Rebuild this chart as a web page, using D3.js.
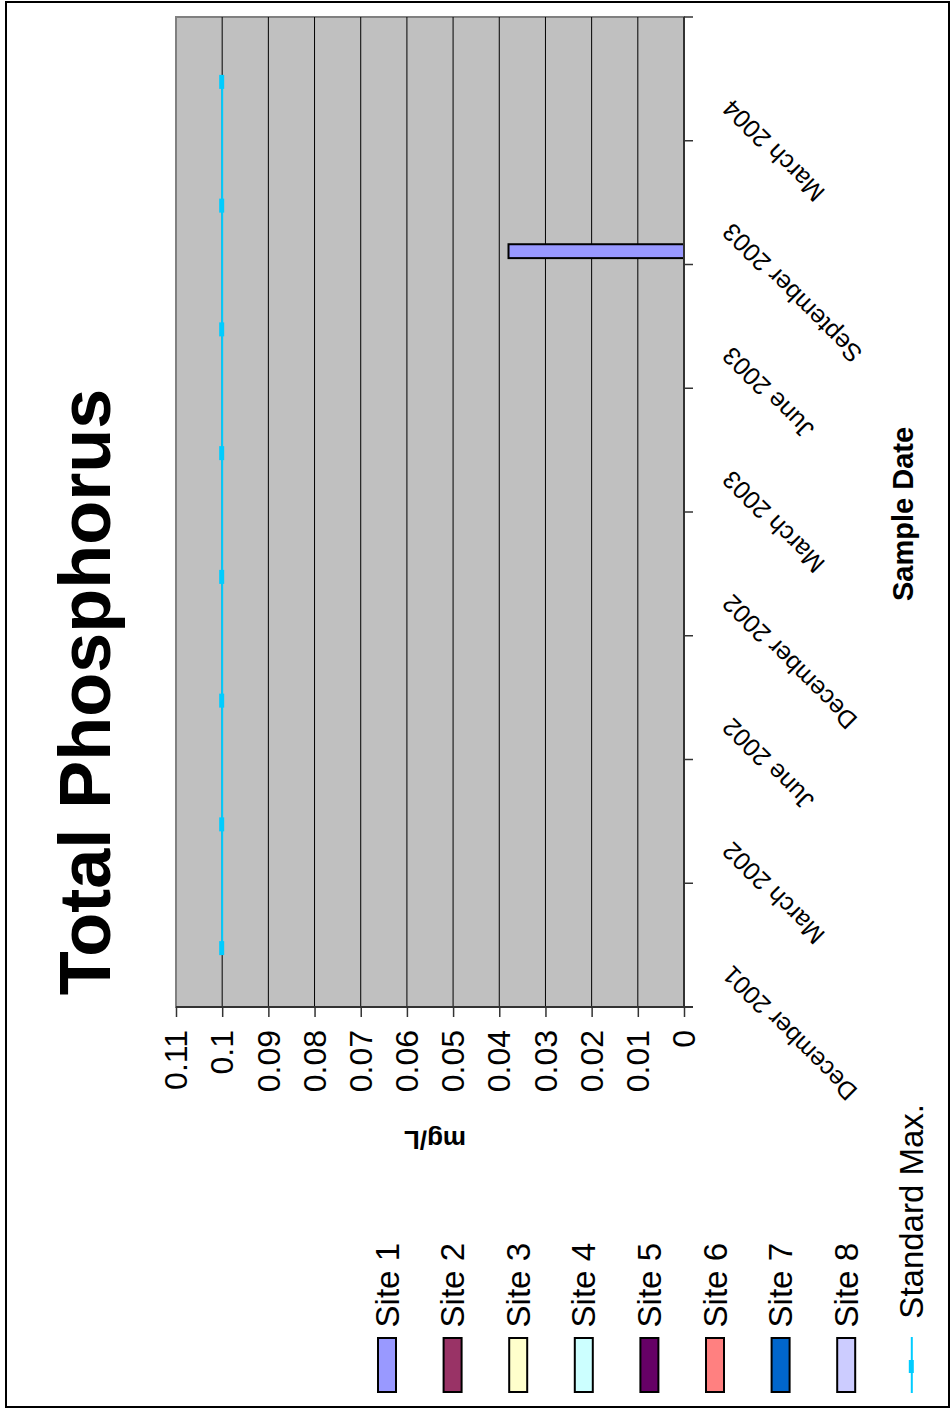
<!DOCTYPE html>
<html>
<head>
<meta charset="utf-8">
<script src="https://cdn.jsdelivr.net/npm/d3@7"></script>
<style>
  html, body { margin: 0; padding: 0; background: #fff; }
  svg { display: block; }
  text { font-family: Arial, "Liberation Sans", sans-serif; fill: #000; }
</style>
</head>
<body>
<script>
// ---- data ----
const categories = ["December 2001", "March 2002", "June 2002", "December 2002",
                    "March 2003", "June 2003", "September 2003", "March 2004"];
const seriesNames = ["Site 1", "Site 2", "Site 3", "Site 4", "Site 5", "Site 6", "Site 7", "Site 8"];
const seriesColors = ["#9999FF", "#993366", "#FFFFCC", "#CCFFFF", "#660066", "#FF8080", "#0066CC", "#CCCCFF"];
const site1 = [null, null, null, null, null, null, 0.038, null];
const site2 = [null, null, null, null, null, null, null, null];
const site3 = [null, null, null, null, null, null, null, null];
const site4 = [null, null, null, null, null, null, null, null];
const site5 = [null, null, null, null, null, null, null, null];
const site6 = [null, null, null, null, null, null, null, null];
const site7 = [null, null, null, null, null, null, null, null];
const site8 = [null, null, null, null, null, null, null, null];
const standardMax = [0.1, 0.1, 0.1, 0.1, 0.1, 0.1, 0.1, 0.1];
const valueTicks = [0, 0.01, 0.02, 0.03, 0.04, 0.05, 0.06, 0.07, 0.08, 0.09, 0.1, 0.11];
const valueTickLabels = ["0", "0.01", "0.02", "0.03", "0.04", "0.05", "0.06", "0.07", "0.08", "0.09", "0.1", "0.11"];
const seriesData = [site1, site2, site3, site4, site5, site6, site7, site8];

// ---- layout ----
const W = 952, H = 1410;
const plot = { left: 176, right: 684, top: 17, bottom: 1007 };

const svg = d3.select("body").append("svg").attr("width", W).attr("height", H);

// outer border
svg.append("rect").attr("x", 6).attr("y", 2).attr("width", 943).attr("height", 1405)
  .attr("fill", "none").attr("stroke", "#000").attr("stroke-width", 2);

// scales (chart is rotated: values run right-to-left, categories bottom-to-top)
const x = d3.scaleLinear().domain([0, 0.11]).range([plot.right, plot.left]);
const y = d3.scaleBand().domain(categories).range([plot.bottom, plot.top]).paddingInner(0).paddingOuter(0);
const ys = d3.scaleBand().domain(seriesNames).range([y.bandwidth(), 0]).paddingInner(0).paddingOuter(0.46);

// plot background
svg.append("rect").attr("x", plot.left).attr("y", plot.top)
  .attr("width", plot.right - plot.left).attr("height", plot.bottom - plot.top)
  .attr("fill", "#C0C0C0").attr("stroke", "#808080").attr("stroke-width", 2);

// gridlines
svg.append("g").selectAll("line").data(valueTicks.filter(v => v > 0 && v < 0.11)).join("line")
  .attr("x1", d => x(d)).attr("x2", d => x(d))
  .attr("y1", plot.top).attr("y2", plot.bottom)
  .attr("stroke", "#000").attr("stroke-width", 1);

// bars
const barG = svg.append("g");
seriesData.forEach((arr, si) => {
  barG.selectAll(null).data(arr.map((v, i) => ({ v, c: categories[i] })).filter(d => d.v != null)).join("rect")
    .attr("x", d => x(d.v))
    .attr("y", d => y(d.c) + ys(seriesNames[si]))
    .attr("width", d => x(0) - x(d.v))
    .attr("height", ys.bandwidth())
    .attr("fill", seriesColors[si]).attr("stroke", "#000").attr("stroke-width", 2);
});

// value axis (bottom of the rotated plot)
const xAxis = d3.axisBottom(x).tickValues(valueTicks).tickFormat(() => "").tickSize(10);
const gx = svg.append("g").attr("transform", `translate(0,${plot.bottom})`).call(xAxis);
gx.select(".domain").attr("stroke", "#333").attr("stroke-width", 2).attr("d", `M${plot.left},0H${plot.right + 9}`);
gx.selectAll(".tick line").attr("stroke", "#333").attr("stroke-width", 1.5);
svg.append("g").selectAll("text").data(valueTicks).join("text")
  .attr("transform", d => `translate(${x(d)},1030) rotate(-90)`)
  .attr("text-anchor", "end").attr("dy", "0.35em")
  .attr("font-size", 32)
  .text((d, i) => valueTickLabels[i]);

// category axis (right edge)
const bounds = categories.map(c => y(c)).concat([plot.bottom]);
svg.append("line").attr("x1", plot.right).attr("x2", plot.right)
  .attr("y1", plot.top).attr("y2", plot.bottom)
  .attr("stroke", "#333").attr("stroke-width", 2);
svg.append("g").selectAll("line").data(bounds).join("line")
  .attr("x1", plot.right).attr("x2", plot.right + 9)
  .attr("y1", d => d).attr("y2", d => d)
  .attr("stroke", "#333").attr("stroke-width", 1.5);
svg.append("g").selectAll("text").data(categories).join("text")
  .attr("transform", d => `translate(733,${y(d) + y.bandwidth() / 2 + 19}) rotate(225)`)
  .attr("text-anchor", "end")
  .attr("font-size", 25)
  .text(d => d);

// standard max line
const stdColor = "#00CCFF";
const lineGen = d3.line().x(d => x(d.v)).y(d => y(d.c) + y.bandwidth() / 2);
const stdPts = standardMax.map((v, i) => ({ v, c: categories[i] }));
svg.append("path").datum(stdPts).attr("d", lineGen)
  .attr("fill", "none").attr("stroke", stdColor).attr("stroke-width", 2);
svg.append("g").selectAll("rect").data(stdPts).join("rect")
  .attr("x", d => x(d.v) - 3).attr("y", d => y(d.c) + y.bandwidth() / 2 - 4)
  .attr("width", 5).attr("height", 14).attr("fill", stdColor);

// title and axis titles
svg.append("text").attr("transform", "translate(110,692) rotate(-90)")
  .attr("text-anchor", "middle").attr("font-size", 72).attr("font-weight", "bold")
  .text("Total Phosphorus");
svg.append("text").attr("transform", "translate(903,514) rotate(-90)")
  .attr("text-anchor", "middle").attr("dy", "0.35em").attr("font-size", 29).attr("font-weight", "bold")
  .text("Sample Date");
svg.append("text").attr("transform", "translate(435,1140) rotate(180)")
  .attr("text-anchor", "middle").attr("dy", "0.35em").attr("font-size", 26).attr("font-weight", "bold")
  .text("mg/L");

// legend
const legX = (i) => 387 + i * 65.6;
const leg = svg.append("g");
seriesNames.forEach((name, i) => {
  leg.append("rect").attr("x", legX(i) - 9).attr("y", 1338).attr("width", 18).attr("height", 54)
    .attr("fill", seriesColors[i]).attr("stroke", "#000").attr("stroke-width", 2);
  leg.append("text").attr("transform", `translate(${legX(i)},1243) rotate(-90)`)
    .attr("text-anchor", "end").attr("dy", "0.35em").attr("font-size", 33).text(name);
});
const si = seriesNames.length;
leg.append("line").attr("x1", legX(si)).attr("x2", legX(si)).attr("y1", 1337).attr("y2", 1393)
  .attr("stroke", stdColor).attr("stroke-width", 2);
leg.append("rect").attr("x", legX(si) - 3).attr("y", 1360).attr("width", 5).attr("height", 13).attr("fill", stdColor);
leg.append("text").attr("transform", `translate(${legX(si)},1104) rotate(-90)`)
  .attr("text-anchor", "end").attr("dy", "0.35em").attr("font-size", 33).text("Standard Max.");
</script>
</body>
</html>
